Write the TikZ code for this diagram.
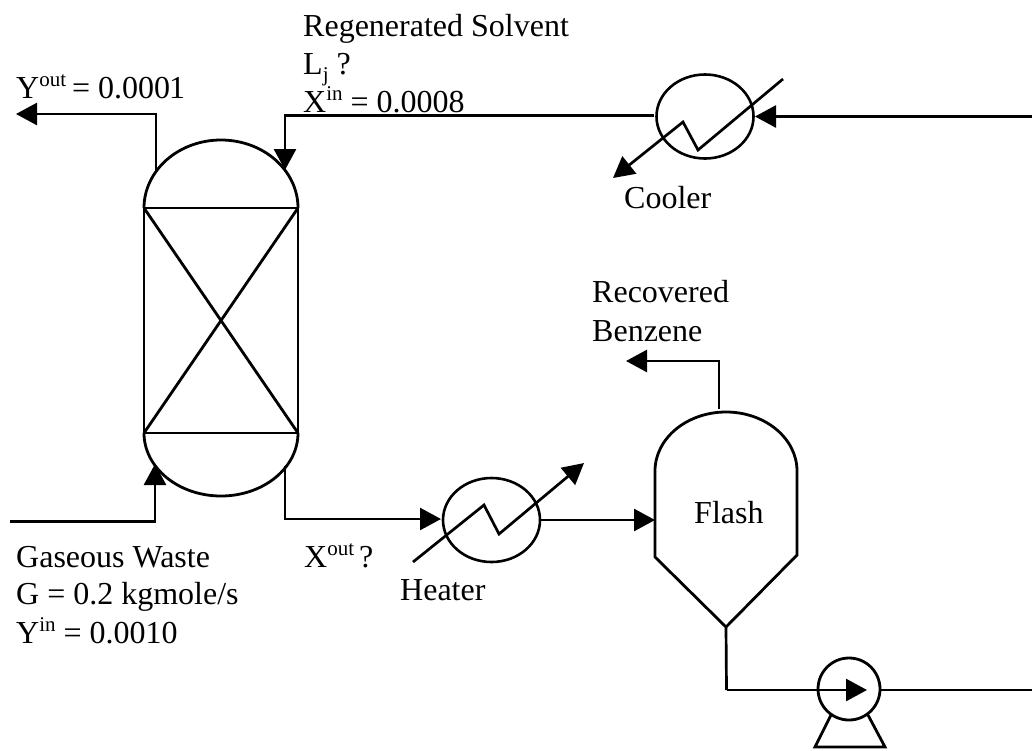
\documentclass[tikz,border=0pt]{standalone}
\usepackage{fontspec}
\setmainfont{Liberation Serif}
\usetikzlibrary{arrows.meta,shapes.geometric}
\newcommand{\supt}[1]{\raisebox{.36em}{\fontsize{21}{21}\selectfont #1}}
\newcommand{\subt}[1]{\raisebox{-.22em}{\fontsize{21}{21}\selectfont #1}}
\tikzset{
  pipe/.style={line width=2.7pt,line join=miter},
  flow/.style={pipe,-{Triangle[length=21pt,width=22pt]}},
  vessel/.style={line width=2.8pt},
  exch/.style={draw,ellipse,line width=2.6pt,minimum width=97pt,minimum height=84pt,inner sep=0pt},
  pumpc/.style={draw,circle,line width=2.8pt,minimum size=62pt,inner sep=0pt},
  lbl/.style={anchor=base west,inner sep=0pt,font=\fontsize{32}{36}\selectfont}
}
\begin{document}
\begin{tikzpicture}[x=1pt,y=-1pt]
\useasboundingbox[fill=white] (0,0) rectangle (1032,750);
% column
\coordinate (tl) at (144,208);
\coordinate (tr) at (298,208);
\coordinate (bl) at (144,433);
\coordinate (br) at (298,433);
\draw[vessel] (tl) arc[start angle=180,end angle=0,x radius=77pt,y radius=68pt];
\draw[vessel] (bl) arc[start angle=180,end angle=360,x radius=77pt,y radius=63pt];
\draw[vessel] (tl) -- (tr) -- (br) -- (bl) -- cycle;
\draw[vessel] (tl) -- (br);
\draw[vessel] (tr) -- (bl);
% overhead
\coordinate (yo0) at (156,172);
\coordinate (yo1) at (156,114);
\coordinate (yo2) at (16,114);
\draw[flow] (yo0) -- (yo1) -- (yo2);
% cooler
\node[exch] (cooler) at (705,116.5) {};
\coordinate (feedR) at (1032,116.5);
\draw[flow] (feedR) -- (755,116.5) coordinate (coolIn);
\coordinate (reg1) at (285,115.5);
\coordinate (reg2) at (285,170);
\coordinate (coolOut) at (654,115.5);
\draw[flow] (coolOut) -- (reg1) -- (reg2);
\coordinate (c1) at (783,79);
\coordinate (c2) at (698,150);
\coordinate (c3) at (683,122);
\coordinate (c4) at (613,178);
\draw[flow] (c1) -- (c2) -- (c3) -- (c4);
% gas feed
\coordinate (gf0) at (10,521.5);
\coordinate (gf1) at (155,521.5);
\coordinate (gf2) at (155,464);
\draw[flow] (gf0) -- (gf1) -- (gf2);
% heater
\node[exch] (heater) at (491.5,520) {};
\coordinate (bo0) at (285,466);
\coordinate (bo1) at (285,519);
\coordinate (bo2) at (441,519);
\draw[flow] (bo0) -- (bo1) -- (bo2);
\coordinate (h1) at (413,562);
\coordinate (h2) at (484,505);
\coordinate (h3) at (499,534);
\coordinate (h4) at (584,463);
\draw[flow] (h1) -- (h2) -- (h3) -- (h4);
% flash
\coordinate (fl) at (655,471);
\coordinate (fr) at (797,471);
\coordinate (fbl) at (655,557);
\coordinate (fbr) at (797,555);
\coordinate (ftip) at (726,627);
\draw[vessel] (fl) arc[start angle=180,end angle=0,x radius=71pt,y radius=59pt];
\draw[vessel] (fl) -- (fbl) -- (ftip) -- (fbr) -- (fr);
\coordinate (flIn) at (655,520);
\draw[flow] (heater.east) -- (flIn);
\coordinate (rb0) at (719,409);
\coordinate (rb1) at (719,361);
\coordinate (rb2) at (626,361);
\draw[flow] (rb0) -- (rb1) -- (rb2);
% pump
\node[pumpc] (pump) at (849,689) {};
\coordinate (p0) at (726.5,690);
\coordinate (pTip) at (867,690);
\draw[pipe] (ftip) -- (p0);
\draw[flow] (p0) -- (pTip);
\coordinate (pOut) at (1032,690);
\draw[pipe] (pump.east |- pOut) -- (pOut);
\coordinate (l1) at (831,715);
\coordinate (l2) at (815,747);
\coordinate (l3) at (885,747);
\coordinate (l4) at (868,715);
\draw[vessel] (l1) -- (l2) -- (l3) -- (l4);
% labels
\node[lbl] (t1) at (303,36) {Regenerated Solvent};
\node[lbl] (t2) at (303,74) {L\subt{j} ?};
\node[lbl] (t3) at (303,112) {X\supt{in} = 0.0008};
\node[lbl] (t4) at (16,98) {Y\supt{out}\hspace{-2pt} = 0.000\hspace{-1pt}1};
\node[lbl] (t5) at (624,208) {Cooler};
\node[lbl] (t6) at (592,302) {Recovered};
\node[lbl] (t7) at (592,341) {Benzene};
\node[lbl] (t8) at (694,523) {Flash};
\node[lbl] (t9) at (16,567) {Gaseous Waste};
\node[lbl] (t10) at (16,604) {G = 0.2 kgmole/s};
\node[lbl] (t11) at (16,643) {Y\supt{in} = 0.0010};
\node[lbl] (t12) at (304,567) {X\supt{out}\hspace{-3pt} ?};
\node[lbl] (t13) at (400,600) {Heater};
\end{tikzpicture}
\end{document}
